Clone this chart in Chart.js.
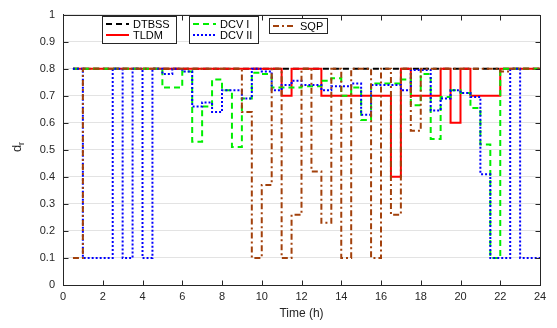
<!DOCTYPE html>
<html>
<head>
<meta charset="utf-8">
<script src="https://cdn.jsdelivr.net/npm/chart.js@4.4.1/dist/chart.umd.min.js"></script>
<style>
  html, body { margin: 0; padding: 0; background: #fff; }
</style>
</head>
<body>
<canvas id="chart" width="557" height="328"></canvas>
<script>
// Time stamps (h), one per half-hour step; each value holds until the next stamp
const hours = [0.5, 1, 1.5, 2, 2.5, 3, 3.5, 4, 4.5, 5, 5.5, 6, 6.5, 7, 7.5, 8,
    8.5, 9, 9.5, 10, 10.5, 11, 11.5, 12, 12.5, 13, 13.5, 14, 14.5, 15, 15.5, 16,
    16.5, 17, 17.5, 18, 18.5, 19, 19.5, 20, 20.5, 21, 21.5, 22, 22.5, 23, 23.5, 24];

const dtbss = [0.8, 0.8, 0.8, 0.8, 0.8, 0.8, 0.8, 0.8, 0.8, 0.8, 0.8, 0.8, 0.8, 0.8, 0.8, 0.8,
    0.8, 0.8, 0.8, 0.8, 0.8, 0.8, 0.8, 0.8, 0.8, 0.8, 0.8, 0.8, 0.8, 0.8, 0.8, 0.8,
    0.8, 0.8, 0.8, 0.8, 0.8, 0.8, 0.8, 0.8, 0.8, 0.8, 0.8, 0.8, 0.8, 0.8, 0.8, 0.8];

const tldm = [0.8, 0.8, 0.8, 0.8, 0.8, 0.8, 0.8, 0.8, 0.8, 0.8, 0.8, 0.8, 0.8, 0.8, 0.8, 0.8,
    0.8, 0.8, 0.8, 0.8, 0.8, 0.7, 0.8, 0.8, 0.8, 0.7, 0.7, 0.7, 0.7, 0.7, 0.7, 0.7,
    0.4, 0.8, 0.7, 0.7, 0.7, 0.8, 0.6, 0.8, 0.7, 0.7, 0.7, 0.8, 0.8, 0.8, 0.8, 0.8];

const dcv1 = [0.8, 0.8, 0.8, 0.8, 0.8, 0.8, 0.8, 0.8, 0.8, 0.73, 0.73, 0.79, 0.53, 0.66, 0.76, 0.72,
    0.51, 0.69, 0.785, 0.78, 0.73, 0.73, 0.73, 0.735, 0.735, 0.755, 0.765, 0.70, 0.73, 0.61, 0.745, 0.745,
    0.745, 0.76, 0.665, 0.78, 0.54, 0.695, 0.72, 0.71, 0.655, 0.52, 0.1, 0.8, 0.8, 0.8, 0.8, 0.8];

const dcv2 = [0.8, 0.1, 0.1, 0.1, 0.8, 0.1, 0.8, 0.1, 0.8, 0.78, 0.8, 0.79, 0.66, 0.675, 0.64, 0.72,
    0.72, 0.69, 0.8, 0.79, 0.72, 0.74, 0.755, 0.74, 0.74, 0.72, 0.735, 0.735, 0.745, 0.63, 0.74, 0.74,
    0.74, 0.72, 0.795, 0.795, 0.645, 0.69, 0.72, 0.71, 0.695, 0.41, 0.1, 0.1, 0.8, 0.1, 0.1, 0.1];

const sqp = [0.1, 0.8, 0.8, 0.8, 0.8, 0.8, 0.8, 0.8, 0.8, 0.8, 0.8, 0.8, 0.8, 0.8, 0.8, 0.8,
    0.8, 0.64, 0.1, 0.37, 0.8, 0.1, 0.26, 0.8, 0.42, 0.23, 0.8, 0.1, 0.8, 0.8, 0.1, 0.8,
    0.26, 0.8, 0.57, 0.8, 0.8, 0.8, 0.8, 0.8, 0.8, 0.8, 0.8, 0.79, 0.8, 0.8, 0.8, 0.8];

const xTicks = [0, 2, 4, 6, 8, 10, 12, 14, 16, 18, 20, 22, 24];
const yTicks = [0, 0.1, 0.2, 0.3, 0.4, 0.5, 0.6, 0.7, 0.8, 0.9, 1];

// Colors
const axisColor = '#262626';
const gridColor = '#e3e3e3';
const brown = '#a2410c';
const fontFamily = "'Liberation Sans', Arial, Helvetica, sans-serif";

const toPoints = vals => hours.map((h, i) => ({ x: h, y: vals[i] }));

const series = [
    { label: 'DTBSS', data: dtbss, color: '#000000', dash: [6, 4], order: 5 },
    { label: 'TLDM', data: tldm, color: '#ff0000', dash: [], order: 4 },
    { label: 'DCV I', data: dcv1, color: '#00ee00', dash: [6, 4], order: 3 },
    { label: 'DCV II', data: dcv2, color: '#0000ff', dash: [2, 2], order: 2 },
    { label: 'SQP', data: sqp, color: brown, dash: [6, 3, 2, 3], order: 1 },
];

// Box, ticks, MATLAB-style legend and y label
const framePlugin = {
    id: 'frame',
    afterDraw(chart) {
        const { ctx, chartArea: a, scales: { x, y } } = chart;
        ctx.save();
        ctx.strokeStyle = axisColor;
        ctx.lineWidth = 1;
        ctx.setLineDash([]);
        const L = Math.round(a.left) + 0.5, R = Math.round(a.right) + 0.5;
        const T = Math.round(a.top) + 0.5, B = Math.round(a.bottom) + 0.5;
        ctx.strokeRect(L, T, R - L, B - T);
        ctx.beginPath();
        xTicks.forEach(v => {
            const px = Math.round(x.getPixelForValue(v)) + 0.5;
            ctx.moveTo(px, B); ctx.lineTo(px, B - 5);
            ctx.moveTo(px, T); ctx.lineTo(px, T + 5);
        });
        yTicks.forEach(v => {
            const py = Math.round(y.getPixelForValue(v)) + 0.5;
            ctx.moveTo(L, py); ctx.lineTo(L + 5, py);
            ctx.moveTo(R, py); ctx.lineTo(R - 5, py);
        });
        ctx.stroke();

        // legend boxes
        const boxes = [
            { x: 102, y: 16, w: 74, h: 27, items: [series[0], series[1]] },
            { x: 189, y: 16, w: 69, h: 27, items: [series[2], series[3]] },
            { x: 269, y: 18, w: 58, h: 15, items: [series[4]] },
        ];
        ctx.font = '11px ' + fontFamily;
        ctx.textBaseline = 'middle';
        ctx.textAlign = 'left';
        boxes.forEach(b => {
            ctx.fillStyle = '#ffffff';
            ctx.fillRect(b.x, b.y, b.w, b.h);
            ctx.setLineDash([]);
            ctx.lineWidth = 1;
            ctx.strokeStyle = axisColor;
            ctx.strokeRect(b.x + 0.5, b.y + 0.5, b.w, b.h);
            b.items.forEach((s, i) => {
                const cy = b.y + 8 + i * 11;
                ctx.beginPath();
                ctx.strokeStyle = s.color;
                ctx.lineWidth = 2;
                ctx.setLineDash(s.dash);
                ctx.moveTo(b.x + 4, cy);
                ctx.lineTo(b.x + 27, cy);
                ctx.stroke();
                ctx.fillStyle = '#000000';
                ctx.fillText(s.label, b.x + 31, cy + 0.5);
            });
        });

        // y label d_r
        ctx.setLineDash([]);
        ctx.translate(21, 147);
        ctx.rotate(-Math.PI / 2);
        ctx.fillStyle = axisColor;
        ctx.textAlign = 'left';
        ctx.textBaseline = 'alphabetic';
        ctx.font = '13px ' + fontFamily;
        ctx.fillText('d', -5, 0);
        ctx.font = '9px ' + fontFamily;
        ctx.fillText('r', 2, 3);
        ctx.restore();
    }
};

new Chart(document.getElementById('chart').getContext('2d'), {
    type: 'line',
    data: {
        datasets: series.map(s => ({
            label: s.label,
            data: toPoints(s.data),
            borderColor: s.color,
            backgroundColor: s.color,
            borderDash: s.dash,
            borderWidth: 2,
            stepped: 'before',
            pointRadius: 0,
            fill: false,
            order: s.order,
        }))
    },
    options: {
        responsive: false,
        animation: false,
        layout: { padding: { left: 0, right: 17, top: 4, bottom: 7 } },
        plugins: {
            legend: { display: false },
            tooltip: { enabled: false },
        },
        scales: {
            x: {
                type: 'linear',
                min: 0,
                max: 24,
                afterBuildTicks: axis => { axis.ticks = xTicks.map(v => ({ value: v })); },
                ticks: { color: axisColor, font: { size: 11, family: fontFamily }, padding: 5, maxRotation: 0 },
                grid: { display: false, drawTicks: false },
                border: { color: axisColor },
                title: { display: true, text: 'Time (h)', color: axisColor, font: { size: 12, family: fontFamily }, padding: { top: 2, bottom: 0 } },
                afterFit: axis => { axis.height = 36; },
            },
            y: {
                min: 0,
                max: 1,
                afterBuildTicks: axis => { axis.ticks = yTicks.map(v => ({ value: v })); },
                ticks: {
                    color: axisColor,
                    font: { size: 11, family: fontFamily },
                    padding: 8,
                    callback: v => String(Number(v.toFixed(1))),
                },
                grid: { color: gridColor, drawTicks: false, lineWidth: 1 },
                border: { color: axisColor },
                afterFit: axis => { axis.width = 63; },
            }
        }
    },
    plugins: [framePlugin]
});
</script>
</body>
</html>
